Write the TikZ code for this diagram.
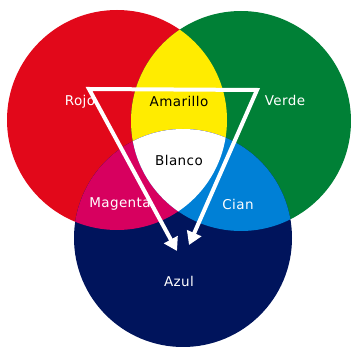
\documentclass[tikz,border=0pt]{standalone}
\usepackage{fontspec}
\setmainfont{DejaVu Sans}[LetterSpace=3]
\usetikzlibrary{arrows.meta}
\definecolor{colRojo}{RGB}{226,8,26}
\definecolor{colVerde}{RGB}{0,128,54}
\definecolor{colAzul}{RGB}{0,20,92}
\definecolor{colAmarillo}{RGB}{255,236,0}
\definecolor{colMagenta}{RGB}{215,0,95}
\definecolor{colCian}{RGB}{0,128,214}

\begin{document}
\begin{tikzpicture}[
    x=1pt, y=-1pt,
    every node/.style={font=\fontsize{13.5}{15}\selectfont, inner sep=1pt},
    claro/.style={text=white},
    oscuro/.style={text=black},
    flecha/.style={draw=white, line width=4pt, miter limit=20,
        {Triangle[length=13pt, width=15pt]}-{Triangle[length=13pt, width=15pt]}},
]
\useasboundingbox (0,0) rectangle (351,347);

% circulos
\fill[colRojo] (117,120) circle[radius=110pt];
\fill[colVerde] (241,121) circle[radius=110pt];
\fill[colAzul] (183,238) circle[radius=109pt];
\begin{scope}
    \clip (117,120) circle[radius=110pt];
    \fill[colAmarillo] (241,121) circle[radius=110pt];
    \fill[colMagenta] (183,238) circle[radius=109pt];
\end{scope}
\begin{scope}
    \clip (241,121) circle[radius=110pt];
    \fill[colCian] (183,238) circle[radius=109pt];
    \clip (117,120) circle[radius=110pt];
    \fill[white] (183,238) circle[radius=109pt];
\end{scope}

\node[claro]  (rojo)     at (80,101.5)  {Rojo};
\node[oscuro] (amarillo) at (179,101.5) {Amarillo};
\node[claro]  (verde)    at (285,100.5) {Verde};
\node[oscuro] (blanco)   at (179,160)   {Blanco};
\node[claro]  (magenta)  at (120,204)   {Magenta};
\node[claro]  (cian)     at (238,204)   {Cian};
\node[claro]  (azul)     at (179,281.5) {Azul};

\coordinate (esqRojo)  at (89,89);
\coordinate (esqVerde) at (257,90);
\coordinate (puntaIzq) at (177,251);
\coordinate (puntaDer) at (189,245);

\draw[flecha] (puntaIzq) -- (esqRojo) -- (esqVerde) -- (puntaDer);
\end{tikzpicture}
\end{document}
